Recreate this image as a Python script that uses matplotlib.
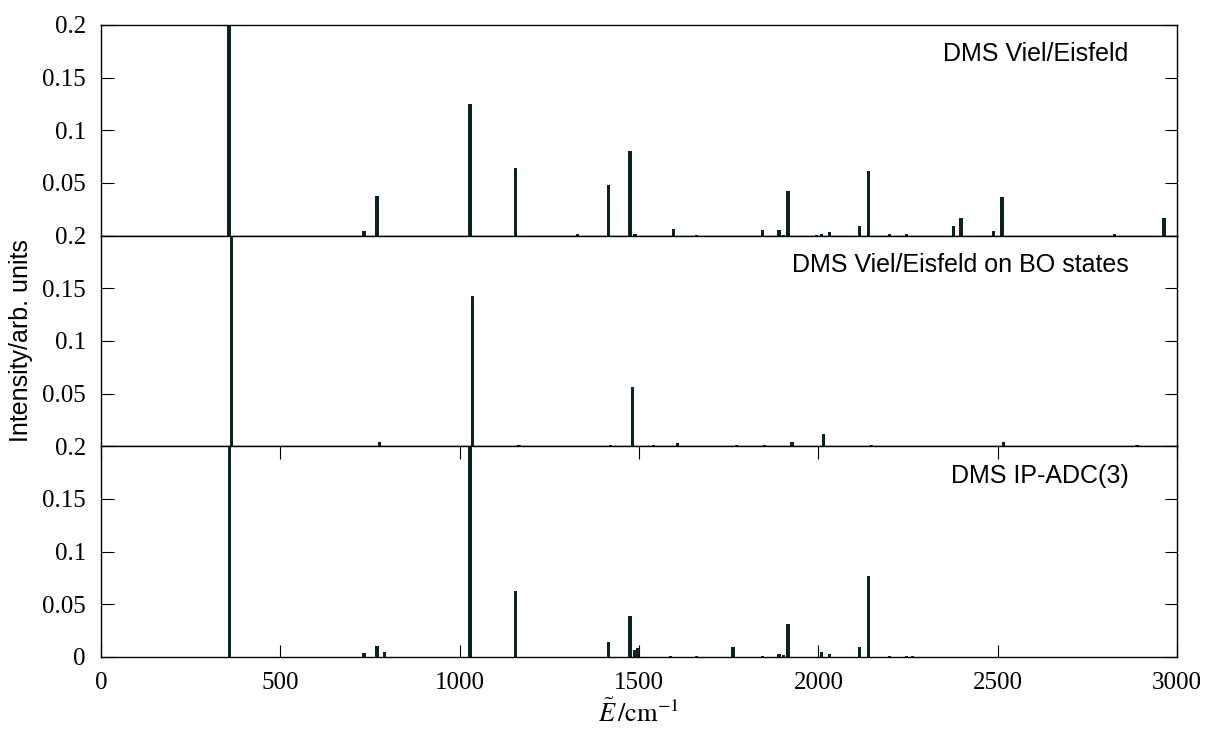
import numpy as np
import matplotlib
matplotlib.use("Agg")
import matplotlib.pyplot as plt

# stick spectra (position in cm^-1, intensity in arb. units)
top_pos = [357, 733, 769, 1029, 1156, 1329, 1415, 1475, 1489, 1596, 1660, 1844, 1890, 1903,
           1915, 1995, 2009, 2031, 2114, 2139, 2199, 2245, 2376, 2398, 2489, 2512, 2825, 2964]
top_int = [0.30, 0.0044, 0.038, 0.125, 0.064, 0.002, 0.048, 0.080, 0.0013, 0.0066, 0.001,
           0.0057, 0.005, 0.001, 0.0427, 0.001, 0.002, 0.003, 0.0089, 0.0614, 0.002, 0.0015,
           0.0095, 0.017, 0.0044, 0.0367, 0.002, 0.0168]

mid_pos = [363, 777, 1035, 1165, 1421, 1482, 1541, 1608, 1772, 1849, 1926, 2015, 2148, 2516, 2888]
mid_int = [0.30, 0.0044, 0.1427, 0.0016, 0.0016, 0.0566, 0.0008, 0.003, 0.0016, 0.001,
           0.0044, 0.012, 0.0008, 0.0044, 0.0016]

bot_pos = [358, 733, 769, 791, 1029, 1156, 1415, 1475, 1489, 1497, 1588, 1660, 1762, 1844,
           1890, 1903, 1915, 2009, 2031, 2114, 2139, 2199, 2245, 2262]
bot_int = [0.30, 0.0038, 0.0101, 0.0044, 0.25, 0.0623, 0.0146, 0.0386, 0.0063, 0.0089,
           0.0005, 0.001, 0.0095, 0.001, 0.0032, 0.0016, 0.031, 0.005, 0.003, 0.0095,
           0.0766, 0.001, 0.001, 0.001]

labels = ["DMS Viel/Eisfeld", "DMS Viel/Eisfeld on BO states", "DMS IP-ADC(3)"]

x_ticks = [0, 500, 1000, 1500, 2000, 2500, 3000]
y_ticks = [0, 0.05, 0.1, 0.15, 0.2]
y_ticklabels = ["0", "0.05", "0.1", "0.15", "0.2"]

plt.rcParams['mathtext.fontset'] = 'stix'
serif = 'Liberation Serif'
sans = 'Liberation Sans'
col = '#0a2424'

fig = plt.figure(figsize=(12.06, 7.34), dpi=100)
left, right = 0.0838, 0.976
bottom, top = 0.105, 0.966
h = (top - bottom) / 3

data = [(top_pos, top_int), (mid_pos, mid_int), (bot_pos, bot_int)]
axes = []
for i, (pos, inten) in enumerate(data):
    ax = fig.add_axes([left, top - (i + 1) * h, right - left, h])
    ax.bar(pos, inten, width=9.5, color=col, linewidth=0)
    ax.set_xlim(0, 3000)
    ax.set_ylim(0, 0.2)
    ax.set_yticks(y_ticks)
    if i < 2:
        # lowest label hidden, the panel below shows its 0.2 there
        ax.set_yticklabels([""] + y_ticklabels[1:])
        ax.set_xticks([])
    else:
        ax.set_yticklabels(y_ticklabels)
        ax.set_xticks(x_ticks)
        ax.set_xticklabels([str(t) for t in x_ticks])
    ax.tick_params(direction='in', length=9, width=0.8, top=(i == 2), right=True,
                   labelsize=18, pad=11)
    for lab in ax.get_xticklabels() + ax.get_yticklabels():
        lab.set_fontfamily(serif)
    for sp in ax.spines.values():
        sp.set_linewidth(1.0)
    ax.text(0.955, 0.86, labels[i], transform=ax.transAxes, ha='right', va='center',
            fontsize=18, family=sans)
    axes.append(ax)

axes[2].set_xlabel(r'$\tilde{E}\,/\mathrm{cm}^{-1}$', fontsize=19, labelpad=4)
fig.text(0.017, (top + bottom) / 2, 'Intensity/arb. units', rotation=90, ha='center',
         va='center', fontsize=18, family=sans)

fig.savefig('out.png', dpi=100)
